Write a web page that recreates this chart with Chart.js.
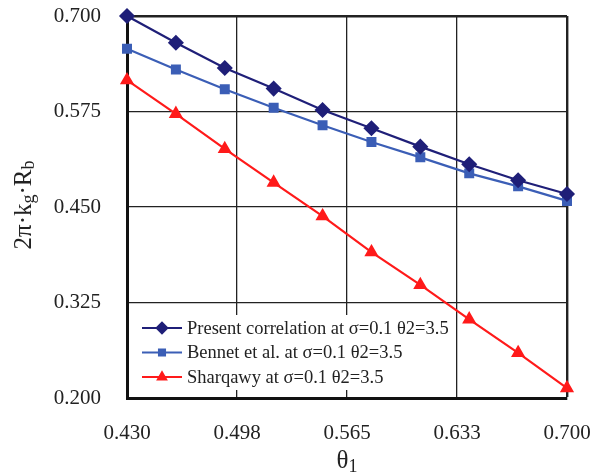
<!DOCTYPE html>
<html>
<head>
<meta charset="utf-8">
<script src="https://cdn.jsdelivr.net/npm/chart.js@4.4.0/dist/chart.umd.min.js"></script>
<style>
html, body { margin: 0; padding: 0; background: #fff; }
</style>
</head>
<body>
<canvas id="myChart" width="590" height="475"></canvas>
<script>
// values
const theta1 = [0.43, 0.46, 0.49, 0.52, 0.55, 0.58, 0.61, 0.64, 0.67, 0.70];
const present = [0.700, 0.665, 0.632, 0.605, 0.577, 0.553, 0.529, 0.506, 0.485, 0.467];
const bennet = [0.657, 0.630, 0.604, 0.580, 0.557, 0.535, 0.515, 0.494, 0.477, 0.458];
const sharqawy = [0.616, 0.572, 0.526, 0.482, 0.438, 0.391, 0.348, 0.303, 0.259, 0.213];
const seriesNames = [
    'Present correlation at σ=0.1 θ2=3.5',
    'Bennet et al. at σ=0.1 θ2=3.5',
    'Sharqawy at σ=0.1 θ2=3.5'
];
const xTickLabels = ['0.430', '0.498', '0.565', '0.633', '0.700'];
const yTickLabels = ['0.200', '0.325', '0.450', '0.575', '0.700'];

const X_MIN = 0.43, X_MAX = 0.70;
const Y_MIN = 0.2, Y_MAX = 0.7;
const SERIF = '"Liberation Serif", "DejaVu Serif", serif';

const toPoints = (ys) => ys.map((y, i) => ({ x: theta1[i], y }));

// axis titles need subscripts, so draw them by hand
const axisTitles = {
    id: 'axisTitles',
    afterDraw(chart) {
        const c = chart.ctx;
        const area = chart.chartArea;
        const parts = [
            ['2π·k', false], ['g', true], ['·R', false], ['b', true]
        ];
        c.save();
        c.fillStyle = '#222';
        c.textBaseline = 'middle';
        c.textAlign = 'left';
        const big = '25px ' + SERIF, small = '18px ' + SERIF;
        let total = 0;
        parts.forEach(([t, sub]) => {
            c.font = sub ? small : big;
            total += c.measureText(t).width;
        });
        c.translate(24, 205);
        c.rotate(-Math.PI / 2);
        let x = -total / 2;
        parts.forEach(([t, sub]) => {
            c.font = sub ? small : big;
            c.fillText(t, x, sub ? 5 : 0);
            x += c.measureText(t).width;
        });
        c.restore();

        // θ1 under the x axis
        c.save();
        c.fillStyle = '#222';
        c.textBaseline = 'middle';
        c.textAlign = 'left';
        c.font = big;
        const w1 = c.measureText('θ').width;
        c.font = small;
        const w2 = c.measureText('1').width;
        const cx = (area.left + area.right) / 2 - (w1 + w2) / 2;
        c.font = big;
        c.fillText('θ', cx, 461);
        c.font = small;
        c.fillText('1', cx + w1, 467);
        c.restore();
    }
};

// legend box inside the plot, bottom-left
const innerLegend = {
    id: 'innerLegend',
    afterDatasetsDraw(chart) {
        const c = chart.ctx;
        c.save();
        c.fillStyle = '#fff';
        c.fillRect(129, 315, 322, 75);
        chart.data.datasets.forEach((ds, i) => {
            const y = 328 + i * 24.5;
            c.strokeStyle = ds.borderColor;
            c.lineWidth = 2;
            c.beginPath();
            c.moveTo(142, y);
            c.lineTo(182, y);
            c.stroke();
            c.fillStyle = ds.pointBackgroundColor;
            c.strokeStyle = ds.pointBorderColor;
            Chart.helpers.drawPoint(c, {
                pointStyle: ds.pointStyle,
                radius: ds.pointRadius - 1.2,
                rotation: 0,
                borderWidth: 1
            }, 162, y);
            c.fillStyle = '#222';
            c.font = '18.5px ' + SERIF;
            c.textBaseline = 'middle';
            c.textAlign = 'left';
            c.fillText(ds.label, 187, y + 1);
        });
        c.restore();
    }
};

const ctx = document.getElementById('myChart').getContext('2d');

new Chart(ctx, {
    type: 'line',
    data: {
        datasets: [{
            label: seriesNames[0],
            data: toPoints(present),
            borderColor: '#1f1f78',
            backgroundColor: '#1f1f78',
            pointBackgroundColor: '#1f1f78',
            pointBorderColor: '#1f1f78',
            pointStyle: 'rectRot',
            pointRadius: 6.5,
            borderWidth: 2.2,
            clip: false,
        }, {
            label: seriesNames[1],
            data: toPoints(bennet),
            borderColor: '#3b5eb6',
            backgroundColor: '#3b5eb6',
            pointBackgroundColor: '#3b5eb6',
            pointBorderColor: '#3b5eb6',
            pointStyle: 'rect',
            pointRadius: 5.5,
            borderWidth: 2.2,
            clip: false,
        }, {
            label: seriesNames[2],
            data: toPoints(sharqawy),
            borderColor: '#ff1a1a',
            backgroundColor: '#ff1a1a',
            pointBackgroundColor: '#ff1a1a',
            pointBorderColor: '#ff1a1a',
            pointStyle: 'triangle',
            pointRadius: 6,
            borderWidth: 2.2,
            clip: false,
        }]
    },
    options: {
        responsive: false,
        animation: false,
        devicePixelRatio: 1,
        layout: { padding: { top: 16, right: 23, left: 0, bottom: 0 } },
        plugins: {
            legend: { display: false },
            tooltip: { enabled: false }
        },
        scales: {
            x: {
                type: 'linear',
                min: X_MIN,
                max: X_MAX,
                afterBuildTicks(scale) {
                    scale.ticks = xTickLabels.map((l, i) => ({ value: X_MIN + i * (X_MAX - X_MIN) / 4 }));
                },
                afterFit(scale) {
                    scale.height = 77;
                    scale.paddingLeft = 0;
                    scale.paddingRight = 0;
                },
                ticks: {
                    callback(value, index) { return xTickLabels[index]; },
                    font: { family: SERIF, size: 21 },
                    color: '#222',
                    padding: 23,
                    maxRotation: 0,
                },
                grid: {
                    color: '#222',
                    lineWidth(c) { return c.index === 4 ? 2.4 : 1.3; },
                    drawTicks: false,
                },
                border: { display: true, width: 3, color: '#111' },
            },
            y: {
                min: Y_MIN,
                max: Y_MAX,
                afterBuildTicks(scale) {
                    scale.ticks = yTickLabels.map((l) => ({ value: Number(l) }));
                },
                afterFit(scale) {
                    scale.width = 127;
                    scale.paddingTop = 0;
                    scale.paddingBottom = 0;
                },
                ticks: {
                    callback(value, index) { return yTickLabels[index]; },
                    font: { family: SERIF, size: 21 },
                    color: '#222',
                    padding: 26,
                },
                grid: {
                    color: '#222',
                    lineWidth(c) { return c.index === 4 ? 2.4 : 1.3; },
                    drawTicks: false,
                },
                border: { display: true, width: 3, color: '#111' },
            }
        }
    },
    plugins: [innerLegend, axisTitles]
});
</script>
</body>
</html>
